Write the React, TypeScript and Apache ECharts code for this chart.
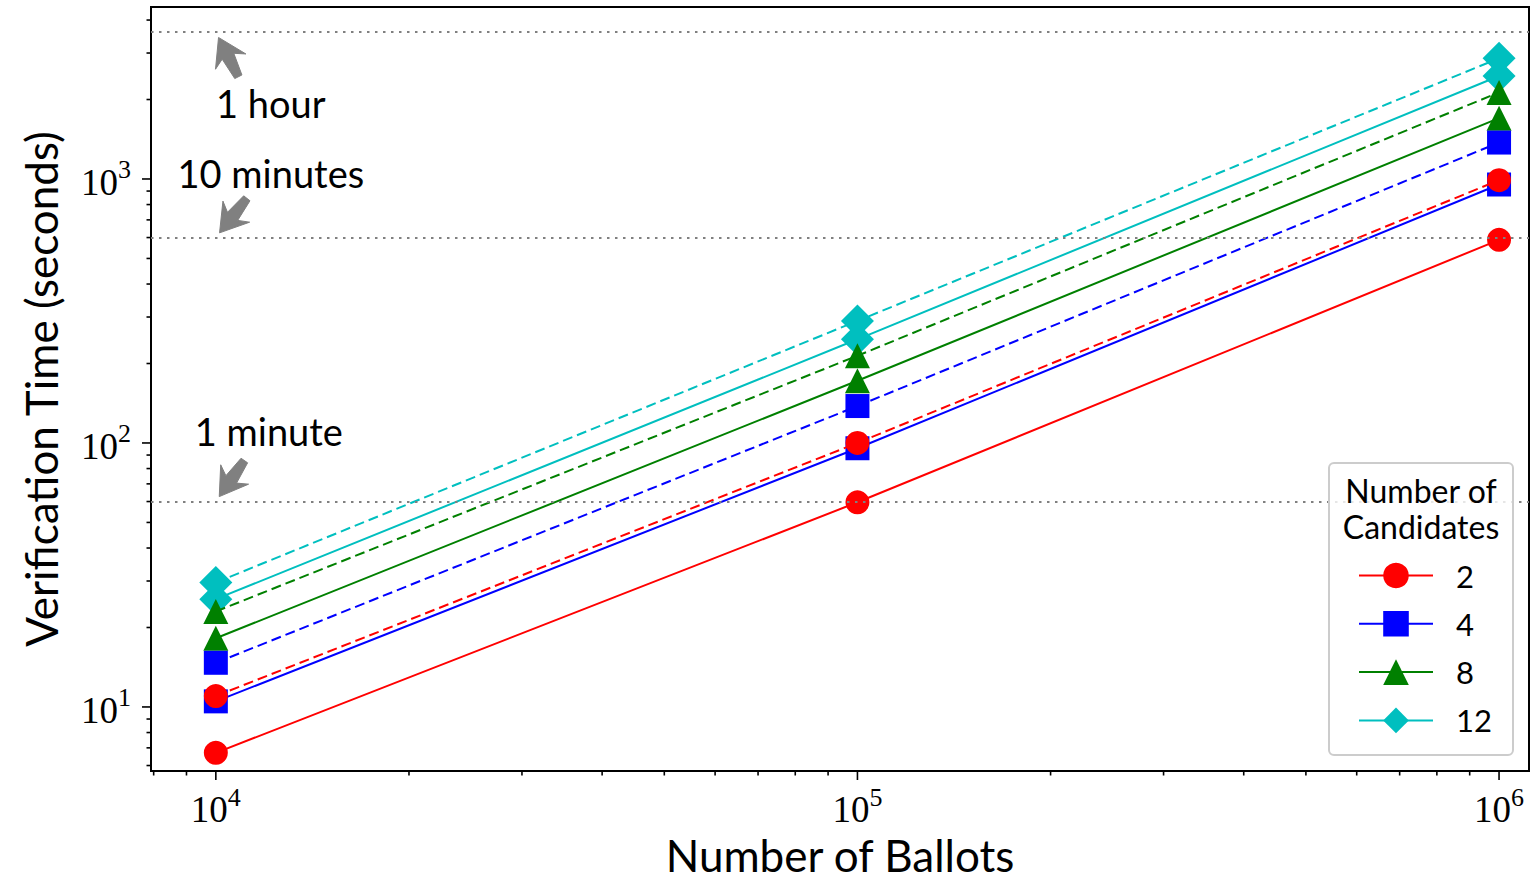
import React, { useEffect, useRef } from "react";
import * as echarts from "echarts";

// ---- data ----
const ballots = [1e4, 1e5, 1e6];
const candidateCounts = ["2", "4", "8", "12"];
const colors = ["#ff0000", "#0000ff", "#008000", "#00bfbf"];
const symbols = ["circle", "rect", "triangle", "diamond"];
const symbolSizes = [24, 24, 25, 33];
// solid lines
const solidTimes = [
  [6.7, 59.6, 588],
  [10.5, 95.5, 953],
  [18.2, 172, 1700],
  [25.6, 247, 2455],
];
// dashed lines
const dashedTimes = [
  [11.0, 100, 990],
  [14.7, 138, 1374],
  [23.0, 214, 2128],
  [29.6, 290, 2866],
];
const refLines = [3600, 600, 60];
const refLabels = ["1 hour", "10 minutes", "1 minute"];
const xMajorTicks = [1e4, 1e5, 1e6];
const yMajorTicks = [10, 100, 1000];
const minorMultipliers = [2, 3, 4, 5, 6, 7, 8, 9];
const X_MIN = 7924;
const X_MAX = 1113500;
const Y_MIN = 5.72;
const Y_MAX = 4482;

const SANS = "Lato, 'Open Sans', 'DejaVu Sans', sans-serif";
const SERIF = "'Liberation Serif', 'DejaVu Serif', serif";

export default function App() {
  const ref = useRef<HTMLDivElement>(null);
  useEffect(() => {
    const el = ref.current!;
    const chart = echarts.init(el, null, { renderer: "svg" });

    const isPow = (v: number) => {
      const l = Math.log10(v);
      return Math.abs(l - Math.round(l)) < 1e-6;
    };
    const fmt = (v: number) =>
      isPow(v) ? `{a|10}{b|${Math.round(Math.log10(v))}}` : "";
    const rich = {
      a: { fontFamily: SERIF, fontSize: 37, color: "#000", lineHeight: 44, verticalAlign: "bottom" },
      b: { fontFamily: SERIF, fontSize: 26, color: "#000", lineHeight: 26, verticalAlign: "top" },
    };

    // tick marks: [x, y, length, axisFlag]
    const tickData: number[][] = [];
    const addTicks = (majors: number[], min: number, max: number, flag: number) => {
      const decades = [majors[0] / 10, ...majors];
      decades.forEach((d) => {
        if (d >= min && d <= max) tickData.push(flag === 0 ? [d, 100, 9, 0] : [1e5, d, 9, 1]);
        minorMultipliers.forEach((m) => {
          const v = d * m;
          if (v >= min && v <= max) tickData.push(flag === 0 ? [v, 100, 4.5, 0] : [1e5, v, 4.5, 1]);
        });
      });
    };
    addTicks(xMajorTicks, X_MIN, X_MAX, 0);
    addTicks(yMajorTicks, Y_MIN, Y_MAX, 1);

    const series: any[] = [];
    solidTimes.forEach((vals, i) => {
      series.push({
        name: candidateCounts[i],
        type: "line",
        data: ballots.map((b, j) => [b, vals[j]]),
        symbol: symbols[i],
        symbolSize: symbolSizes[i],
        itemStyle: { color: colors[i] },
        lineStyle: { color: colors[i], width: 2 },
        z: 3,
      });
    });
    dashedTimes.forEach((vals, i) => {
      series.push({
        name: candidateCounts[i] + " (dashed)",
        type: "line",
        data: ballots.map((b, j) => [b, vals[j]]),
        symbol: symbols[i],
        symbolSize: symbolSizes[i],
        itemStyle: { color: colors[i] },
        lineStyle: { color: colors[i], width: 2, type: [10, 5] },
        z: 4,
      });
    });
    series.push({
      name: "reference",
      type: "line",
      data: [],
      z: 6,
      silent: true,
      markLine: {
        silent: true,
        symbol: ["none", "none"],
        label: { show: false },
        lineStyle: { color: "#808080", width: 2.2, type: [2.5, 5.5] },
        data: refLines.map((v) => ({ yAxis: v })),
      },
    });
    series.push({
      type: "custom",
      silent: true,
      clip: false,
      z: 7,
      data: tickData,
      encode: { x: 0, y: 1 },
      renderItem: (params: any, api: any) => {
        const cs = params.coordSys;
        const len = api.value(2);
        if (api.value(3) === 0) {
          const px = api.coord([api.value(0), api.value(1)])[0];
          const y0 = cs.y + cs.height;
          return { type: "line", shape: { x1: px, y1: y0, x2: px, y2: y0 + len }, style: { stroke: "#000", lineWidth: 1.6 } };
        }
        const py = api.coord([api.value(0), api.value(1)])[1];
        return { type: "line", shape: { x1: cs.x - len, y1: py, x2: cs.x, y2: py }, style: { stroke: "#000", lineWidth: 1.6 } };
      },
    });

    chart.setOption({
      animation: false,
      backgroundColor: "#fff",
      grid: {
        left: 151, top: 7, right: 2, bottom: 111,
        containLabel: false, outerBoundsMode: "none",
        show: true, borderColor: "#000", borderWidth: 2, backgroundColor: "transparent",
      },
      xAxis: {
        type: "log",
        logBase: 10,
        min: X_MIN,
        max: X_MAX,
        name: "Number of Ballots",
        nameLocation: "middle",
        nameGap: 62,
        nameTextStyle: { fontFamily: SANS, fontSize: 44, color: "#000" },
        axisLine: { show: false },
        axisTick: { show: false },
        splitLine: { show: false },
        axisLabel: { formatter: fmt, rich, margin: 13, showMinLabel: false, showMaxLabel: false },
      },
      yAxis: {
        type: "log",
        logBase: 10,
        min: Y_MIN,
        max: Y_MAX,
        name: "Verification Time (seconds)",
        nameLocation: "middle",
        nameGap: 88,
        nameTextStyle: { fontFamily: SANS, fontSize: 44, color: "#000" },
        axisLine: { show: false },
        axisTick: { show: false },
        splitLine: { show: false },
        axisLabel: { formatter: fmt, rich, margin: 20, showMinLabel: false, showMaxLabel: false },
      },
      legend: {
        data: candidateCounts,
        orient: "vertical",
        left: 1353,
        top: 555,
        z: 100,
        itemWidth: 74,
        itemHeight: 32,
        itemGap: 17.3,
        selectedMode: false,
        textStyle: { fontFamily: SANS, fontSize: 31, color: "#000", padding: [0, 0, 0, 18] },
      },
      series,
    });

    // annotations (arrows + texts) anchored at data coordinates
    const arrowDirs = [
      [0.45, 0.893],
      [0.62, -0.785],
      [0.57, -0.82],
    ];
    const textOffsets = [
      [55, 71],
      [55, -65],
      [53, -71],
    ];
    const graphics: any[] = [];
    refLines.forEach((v, i) => {
      const p = chart.convertToPixel({ gridIndex: 0 }, [ballots[0], v]) as number[];
      const [ux, uy] = arrowDirs[i];
      const tip = [p[0] + 6 * ux, p[1] + 6 * uy];
      const px = -uy, py = ux;
      const pt = (a: number, b: number) => [tip[0] + a * ux + b * px, tip[1] + a * uy + b * py];
      graphics.push({
        type: "polygon",
        z: 50,
        silent: true,
        shape: {
          points: [pt(0, 0), pt(27, 17), pt(21, 6.5), pt(44, 4), pt(44, -4), pt(21, -6.5), pt(27, -17)],
        },
        style: { fill: "#808080", stroke: "#808080", lineWidth: 1 },
      });
      graphics.push({
        type: "text",
        z: 50,
        silent: true,
        x: p[0] + textOffsets[i][0],
        y: p[1] + textOffsets[i][1],
        style: { text: refLabels[i], fontFamily: SANS, fontSize: 38, fill: "#000", align: "center", verticalAlign: "middle" },
      });
    });
    // legend frame and title
    graphics.push({
      type: "rect",
      z: 40,
      silent: true,
      shape: { x: 1329, y: 463, width: 184, height: 292, r: 5 },
      style: { fill: "rgba(255,255,255,0.8)", stroke: "#cccccc", lineWidth: 2 },
    });
    graphics.push({
      type: "text",
      z: 50,
      silent: true,
      x: 1421,
      y: 508,
      style: { text: "Number of\nCandidates", fontFamily: SANS, fontSize: 32, lineHeight: 36, fill: "#000", align: "center", verticalAlign: "middle" },
    });
    chart.setOption({ graphic: { elements: graphics } });

    return () => chart.dispose();
  }, []);

  return (
    <div
      ref={ref}
      style={{ position: "fixed", left: 0, top: 0, width: 1531, height: 882, background: "#fff" }}
    />
  );
}
